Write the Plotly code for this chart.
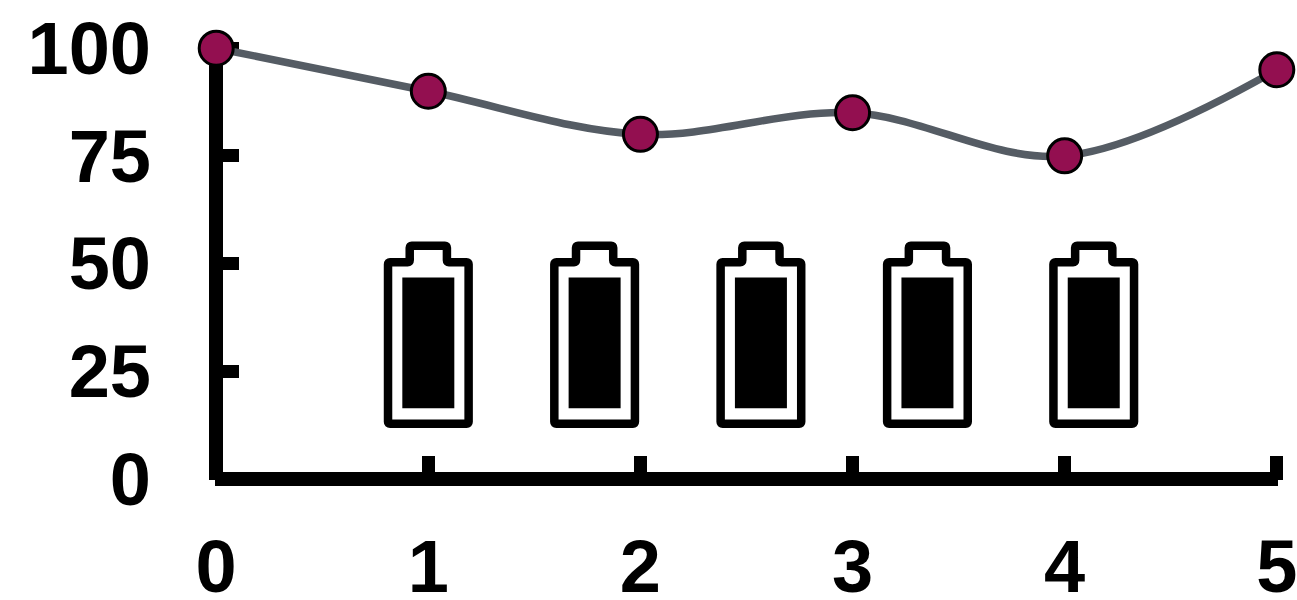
import plotly.graph_objects as go

# Series
x_values = [0, 1, 2, 3, 4, 5]
y_values = [100, 90, 80, 85, 75, 95]
x_ticks = [0, 1, 2, 3, 4, 5]
y_ticks = [0, 25, 50, 75, 100]

# Battery pictograms: anchor positions in axis units
battery_x = [1.0, 1.784, 2.568, 3.353, 4.137]
battery_y = [33.2, 33.2, 33.2, 33.2, 33.2]

WIDTH, HEIGHT = 1297, 600
LEFT, RIGHT, TOP, BOTTOM = 216.0, 1277.0, 48.0, 479.0
INSET = 1.2  # keeps the zero lines and end ticks inside the plot area so they are drawn
X_PX = (RIGHT - LEFT) / 5
Y_PX = (BOTTOM - TOP) / 100
AXIS_BLACK = "#000000"
FONT = dict(family="Liberation Sans, Arial, sans-serif", size=74, color="#000000", weight=700)


def rounded(points, r=3.0):
    """Closed polygon path (pixel offsets) with softened corners."""
    n = len(points)
    parts = []
    for i, (px, py) in enumerate(points):
        ax, ay = points[i - 1]
        bx, by = points[(i + 1) % n]
        def toward(qx, qy):
            d = ((qx - px) ** 2 + (qy - py) ** 2) ** 0.5
            return px + (qx - px) * r / d, py + (qy - py) * r / d
        sx, sy = toward(ax, ay)
        ex, ey = toward(bx, by)
        parts.append(f"{'M' if i == 0 else 'L'}{sx:.2f},{sy:.2f} Q{px:.2f},{py:.2f} {ex:.2f},{ey:.2f}")
    return " ".join(parts) + " Z"


# Glyph outline in pixels around the anchor, y pointing up
BODY_OUTLINE = rounded([
    (-40.3, 73.7), (-18.6, 73.7), (-18.6, 90.0), (18.6, 90.0),
    (18.6, 73.7), (40.3, 73.7), (40.3, -88.0), (-40.3, -88.0),
], r=2.0)
CHARGE_FILL = "M-26,58.3 L26,58.3 L26,-72.3 L-26,-72.3 Z"

shapes = []
for bx, by in zip(battery_x, battery_y):
    anchor = dict(xref="x", yref="y", xsizemode="pixel", ysizemode="pixel",
                  xanchor=bx, yanchor=by, type="path")
    shapes.append(dict(path=BODY_OUTLINE, line=dict(color="#000000", width=8.5),
                       fillcolor="rgba(0,0,0,0)", **anchor))
    shapes.append(dict(path=CHARGE_FILL, line=dict(width=0),
                       fillcolor="#000000", **anchor))

fig = go.Figure(
    go.Scatter(
        x=x_values,
        y=y_values,
        mode="lines+markers",
        line=dict(color="#555c64", width=7.5, shape="spline", smoothing=1.0),
        marker=dict(color="#930f50", size=34, line=dict(color="#000000", width=3)),
        cliponaxis=False,
        hoverinfo="skip",
    )
)

axis_common = dict(
    showgrid=False,
    showline=False,
    zeroline=True,
    zerolinecolor=AXIS_BLACK,
    zerolinewidth=14,
    ticks="inside",
    tickcolor=AXIS_BLACK,
    tickwidth=13,
    ticklen=24,
    tickfont=FONT,
    ticklabeloverflow="allow",
    layer="below traces",
    automargin=False,
)

fig.update_layout(
    width=WIDTH,
    height=HEIGHT,
    margin=dict(l=LEFT - INSET, r=WIDTH - RIGHT - INSET, t=TOP - INSET,
                b=HEIGHT - BOTTOM - INSET, pad=0),
    paper_bgcolor="#ffffff",
    plot_bgcolor="#ffffff",
    showlegend=False,
    shapes=shapes,
    xaxis=dict(range=[-INSET / X_PX, 5 + INSET / X_PX], tickvals=x_ticks,
               ticklabelstandoff=37, **axis_common),
    yaxis=dict(range=[-INSET / Y_PX, 100 + INSET / Y_PX], tickvals=y_ticks,
               ticklabelstandoff=63, **axis_common),
)

fig.write_html("out.html", config=dict(displayModeBar=False))
